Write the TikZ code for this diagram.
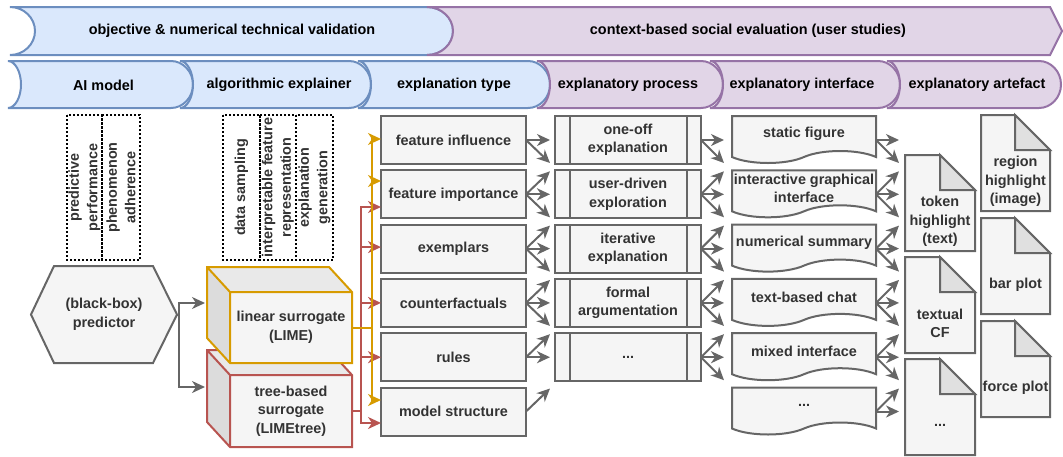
\documentclass[tikz,border=0pt]{standalone}
\usepackage{fontspec}
\setmainfont{Liberation Sans}
\usetikzlibrary{arrows.meta,calc}
\definecolor{bfill}{HTML}{DAE8FC}
\definecolor{bdraw}{HTML}{6C8EBF}
\definecolor{pfill}{HTML}{E1D5E7}
\definecolor{pdraw}{HTML}{9673A6}
\definecolor{gfill}{HTML}{F5F5F5}
\definecolor{gdraw}{HTML}{666666}
\definecolor{gtext}{HTML}{333333}
\definecolor{odraw}{HTML}{D79B00}
\definecolor{rdraw}{HTML}{B85450}
\definecolor{gdark}{HTML}{DCDCDC}
\definecolor{glight}{HTML}{E9E9E9}
\definecolor{gfold}{HTML}{E0E0E0}

\newcommand\chev[4]{%
 \draw[line width=2pt,fill=#3,draw=#4] (#1,61) -- ({#2-22},61)
  .. controls ({#2-10},61) and (#2,71.6) .. (#2,84.5)
  .. controls (#2,97.4) and ({#2-10},108) .. ({#2-22},108)
  -- (#1,108)
  .. controls ({#1+7},108) and ({#1+13},97.4) .. ({#1+13},84.5)
  .. controls ({#1+13},71.6) and ({#1+7},61) .. (#1,61) -- cycle;}

\newcommand\docshape[1]{%
 \draw[gshape] (732,{#1}) -- (876,{#1}) -- (876,{#1+41})
  .. controls (858,{#1+33}) and (822,{#1+33}) .. (804,{#1+41})
  .. controls (786,{#1+49}) and (750,{#1+49}) .. (732,{#1+41}) -- cycle;}

\newcommand\noteshape[3]{%
 \draw[gshape] (#1,#2) -- ({#1+#3-35},#2) -- ({#1+#3},{#2+35}) -- ({#1+#3},{#2+96}) -- (#1,{#2+96}) -- cycle;
 \draw[gshape,fill=gfold] ({#1+#3-35},#2) -- ({#1+#3-35},{#2+35}) -- ({#1+#3},{#2+35}) -- cycle;}

\newcommand\mycube[3]{%
 \fill[gfill] (230,{#1+25}) rectangle (352,#2);
 \fill[gdark] (207,#1) -- (230,{#1+25}) -- (230,#2) -- (207,{#2-25}) -- cycle;
 \fill[glight] (207,#1) -- (329,#1) -- (352,{#1+25}) -- (230,{#1+25}) -- cycle;
 \draw[#3,line width=2pt] (207,#1) -- (329,#1) -- (352,{#1+25}) -- (352,#2) -- (230,#2) -- (207,{#2-25}) -- cycle
   (207,#1) -- (230,{#1+25}) -- (352,{#1+25}) (230,{#1+25}) -- (230,#2);}

\begin{document}
\begin{tikzpicture}[x=1pt,y=-1pt,
 lbl/.style={font=\fontsize{14.4}{18.5}\selectfont\bfseries, text=gtext, align=center, inner sep=0pt, outer sep=0pt},
 btxt/.style={lbl, text=black},
 gbox/.style={lbl, draw=gdraw, fill=gfill, line width=2pt},
 gshape/.style={draw=gdraw, fill=gfill, line width=2pt},
 tip/.style={-{Stealth[length=13pt,width=12pt,inset=4pt]}},
 garrow/.style={draw=gdraw, line width=2pt, tip},
 oarrow/.style={draw=odraw, line width=2pt, tip},
 rarrow/.style={draw=rdraw, line width=2pt, tip},
 dotbox/.style={lbl, draw=black, line width=2pt, dash pattern=on 2pt off 2pt, rotate=90, minimum width=145pt}
]
\useasboundingbox (0,0) rectangle (1063,456);

% top banners
\draw[line width=2pt,fill=bfill,draw=bdraw] (10,7) -- (427,7) .. controls (441.3,7) and (453,17.8) .. (453,31) .. controls (453,44.2) and (441.3,55) .. (427,55) -- (10,55) .. controls (23.75,55) and (35,44.2) .. (35,31) .. controls (35,17.8) and (23.75,7) .. (10,7) -- cycle;
\draw[line width=2pt,fill=pfill,draw=pdraw] (427,7) -- (1050,7) -- (1062,31) -- (1050,55) -- (427,55) .. controls (441.3,55) and (453,44.2) .. (453,31) .. controls (453,17.8) and (441.3,7) .. (427,7) -- cycle;
\node[btxt] (ov) at (232,31) {objective \& numerical technical validation};
\node[btxt] (cv) at (748,31) {context-based social evaluation (user studies)};

% second row
\chev{8}{193}{bfill}{bdraw}
\chev{180}{371}{bfill}{bdraw}
\chev{358}{550}{bfill}{bdraw}
\chev{537}{723}{pfill}{pdraw}
\chev{710}{900}{pfill}{pdraw}
\chev{887}{1061}{pfill}{pdraw}
\node[btxt] (h1) at (103.5,85) {AI model};
\node[btxt] (h2) at (279,85) {algorithmic explainer};
\node[btxt] (h3) at (454,85) {explanation type};
\node[btxt] (h4) at (628,85) {explanatory process};
\node[btxt] (h5) at (802,85) {explanatory interface};
\node[btxt] (h6) at (977,85) {explanatory artefact};

% dotted boxes
\node[dotbox, minimum height=35pt] (d1) at (84.5,187.5) {predictive\\performance};
\node[dotbox, minimum height=38pt] (d2) at (121,187.5) {phenomenon\\adherence};
\node[dotbox, minimum height=37pt] (d3) at (241.5,187.5) {data sampling};
\node[dotbox, minimum height=36pt] (d4) at (278,187.5) {interpretable feature\\representation};
\node[dotbox, minimum height=37pt] (d5) at (314.5,187.5) {explanation\\generation};

% hexagon
\draw[gshape] (31,314.5) -- (54,266) -- (153,266) -- (177,314.5) -- (153,363) -- (54,363) -- cycle;
\node[lbl, minimum width=146pt, minimum height=97pt] (hex) at (104,314.5) {(black-box)\\predictor};

% cubes
\mycube{350}{447}{rdraw}
\mycube{267}{363}{odraw}
\node[lbl, minimum width=122pt, minimum height=72pt] (tree) at (291,411) {tree-based\\surrogate\\(LIMEtree)};
\node[lbl, minimum width=122pt, minimum height=71pt] (lin) at (291,327.5) {linear surrogate\\(LIME)};

% explanation types
\foreach \i/\c/\t in {1/140/feature influence,2/194.3/feature importance,3/248.6/exemplars,4/302.9/counterfactuals,5/357.2/rules,6/411.5/model structure}
  \node[gbox, minimum width=145pt, minimum height=48pt] (t\i) at (453.5,\c) {\t};

% explanatory processes
\foreach \i/\c/\t in {1/140/{one-off\\explanation},2/194.3/{user-driven\\exploration},3/248.6/{iterative\\explanation},4/302.9/{formal\\argumentation},5/357.2/{...}}{
  \node[gbox, minimum width=146pt, minimum height=48pt] (p\i) at (628,\c) {\t};
  \draw[gdraw, line width=2pt] ($(p\i.north west)+(15,0)$) -- ($(p\i.south west)+(15,0)$)
     ($(p\i.north east)+(-14,0)$) -- ($(p\i.south east)+(-14,0)$);
}

% explanatory interfaces
\foreach \i/\c/\t in {1/140/static figure,2/194.3/{interactive graphical\\interface},3/248.6/numerical summary,4/302.9/text-based chat,5/357.2/mixed interface,6/411.5/{...}}{
  \docshape{\c-24}
  \node[lbl, minimum width=144pt] (i\i) at (804,{\c-6}) {\t};
}

% artefacts
\noteshape{905}{155}{70}
\noteshape{905}{257}{70}
\noteshape{905}{359}{70}
\noteshape{981}{115}{69}
\noteshape{981}{218}{69}
\noteshape{981}{321}{69}
\node[lbl] (n1) at (940,{155+66.5}) {token\\highlight\\(text)};
\node[lbl] (n2) at (940,{257+66.5}) {textual\\CF};
\node[lbl] (n3) at (940,{359+66.5}) {...};
\node[lbl] (n4) at (1015.5,{115+66.5}) {region\\highlight\\(image)};
\node[lbl] (n5) at (1015.5,{218+66.5}) {bar plot};
\node[lbl] (n6) at (1015.5,{321+66.5}) {force plot};

% arrow end coordinates
\foreach \i/\c in {1/140,2/194.3,3/248.6,4/302.9,5/357.2,6/411.5}{
  \coordinate (aR\i) at (550,\c); \coordinate (aU\i) at (550,{\c-23}); \coordinate (aD\i) at (550,{\c+23});
  \coordinate (bR\i) at (724,\c); \coordinate (bU\i) at (724,{\c-23}); \coordinate (bD\i) at (724,{\c+23});
  \coordinate (cR\i) at (899,\c); \coordinate (cU\i) at (899,{\c-23}); \coordinate (cD\i) at (899,{\c+23});
}
\foreach \i in {1,...,5} \draw[garrow] (t\i.east) -- (aR\i);
\foreach \i in {1,...,4} \draw[garrow] (t\i.east) -- (aD\i);
\foreach \i in {2,...,6} \draw[garrow] (t\i.east) -- (aU\i);
\foreach \i in {1,...,5} {\draw[garrow] (p\i.east) -- (bR\i); \draw[garrow] (p\i.east) -- (bD\i);}
\foreach \i in {2,...,5} \draw[garrow] (p\i.east) -- (bU\i);
\foreach \i in {1,...,6} \draw[garrow] ([yshift=-6pt]i\i.east) -- (cR\i);
\foreach \i in {1,...,5} \draw[garrow] ([yshift=-6pt]i\i.east) -- (cD\i);
\foreach \i in {2,...,6} \draw[garrow] ([yshift=-6pt]i\i.east) -- (cU\i);

% predictor to surrogates
\coordinate (hbus) at (178.5,314.5);
\coordinate (lintgt) at (205,303);
\coordinate (treetgt) at (205,387);
\draw[garrow] (hex.east) -- (hbus) |- (lintgt);
\draw[garrow] (hex.east) -- (hbus) |- (treetgt);

% surrogate buses
\coordinate (rbus) at (361,411);
\coordinate (obus) at (372,327.5);
\draw[rarrow] (tree.east) -- (rbus) |- ($(t2.west)+(0,12.7)$);
\draw[rarrow] (tree.east) -- (rbus) |- ($(t3.west)+(0,-1.5)$);
\draw[rarrow] (tree.east) -- (rbus) |- (t4.west);
\draw[rarrow] (tree.east) -- (rbus) |- (t5.west);
\draw[rarrow] (tree.east) -- (rbus) |- ($(t6.west)+(0,11.5)$);
\draw[oarrow] (lin.east) -- (obus) |- ($(t1.west)+(0,-1)$);
\draw[oarrow] (lin.east) -- (obus) |- ($(t2.west)+(0,-13.3)$);
\draw[oarrow] (lin.east) -- (obus) |- ($(t6.west)+(0,-11.5)$);
\end{tikzpicture}
\end{document}
